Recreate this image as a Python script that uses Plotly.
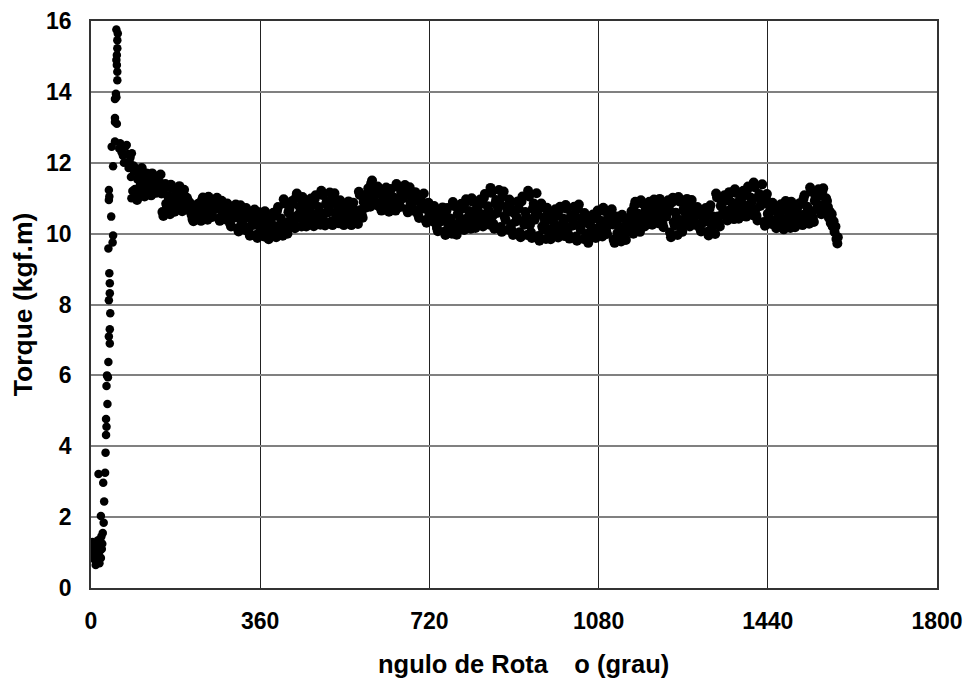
import plotly.graph_objects as go

# ---- data ----
rise_angle = [1, 2, 3, 5, 6, 8, 9, 10, 11, 12, 13, 14, 15, 16, 17, 18, 19, 20, 21, 22, 23, 24, 25,
              21, 27, 28, 16, 30, 26, 31, 32, 33, 32, 35, 33, 36, 34, 37, 40, 38, 40, 41, 38, 40,
              40, 39, 37, 46, 47, 43, 38, 39, 38, 47, 44, 51, 51, 55, 51, 51, 54, 53, 56, 56, 55,
              54, 55, 56, 56, 57, 54,
              60, 62, 65, 68, 70, 73, 76, 79, 82, 84, 87, 80, 85, 88, 86]
rise_torque = [1.2, 1.05, 1.3, 0.95, 1.15, 0.8, 1.1, 0.65, 0.9, 1.25, 1.0, 0.75, 1.35, 0.95, 1.15,
               0.7, 1.05, 1.3, 0.85, 1.45, 1.1, 1.25, 1.55,
               2.03, 1.84, 2.44, 3.22, 3.25, 2.97, 3.82, 4.32, 4.55, 4.77, 5.19, 5.7, 5.95, 6.0,
               6.38, 6.9, 7.1, 7.3, 7.75, 8.12, 8.32, 8.6, 8.88, 9.58, 9.75, 9.95, 10.48, 10.95,
               11.05, 11.23, 11.9, 12.45, 12.6, 13.15, 13.1, 13.26, 13.8, 13.85, 13.95, 14.33,
               14.57, 14.76, 14.9, 15.04, 15.23, 15.46, 15.65, 15.76,
               12.4, 12.55, 12.3, 12.2, 12.0, 12.45, 12.5, 12.25, 12.05, 12.15, 12.27, 11.85,
               11.6, 11.2, 11.0]

band_angle = [
    90, 94, 98, 102, 106, 110, 114, 118, 122, 126, 130, 134, 138, 142, 146, 150, 154, 158, 162, 166,
    170, 174, 178, 182, 186, 190, 194, 198, 202, 206, 210, 214, 218, 222, 226, 230, 234, 238, 242, 246,
    250, 254, 258, 262, 266, 270, 274, 278, 282, 286, 290, 294, 298, 302, 306, 310, 314, 318, 322, 326,
    330, 334, 338, 342, 346, 350, 354, 358, 362, 366, 370, 374, 378, 382, 386, 390, 394, 398, 402, 406,
    410, 414, 418, 422, 426, 430, 434, 438, 442, 446, 450, 454, 458, 462, 466, 470, 474, 478, 482, 486,
    490, 494, 498, 502, 506, 510, 514, 518, 522, 526, 530, 534, 538, 542, 546, 550, 554, 558, 562, 566,
    570, 574, 578, 582, 586, 590, 594, 598, 602, 606, 610, 614, 618, 622, 626, 630, 634, 638, 642, 646,
    650, 654, 658, 662, 666, 670, 674, 678, 682, 686, 690, 694, 698, 702, 706, 710, 714, 718, 722, 726,
    730, 734, 738, 742, 746, 750, 754, 758, 762, 766, 770, 774, 778, 782, 786, 790, 794, 798, 802, 806,
    810, 814, 818, 822, 826, 830, 834, 838, 842, 846, 850, 854, 858, 862, 866, 870, 874, 878, 882, 886,
    890, 894, 898, 902, 906, 910, 914, 918, 922, 926, 930, 934, 938, 942, 946, 950, 954, 958, 962, 966,
    970, 974, 978, 982, 986, 990, 994, 998, 1002, 1006, 1010, 1014, 1018, 1022, 1026, 1030, 1034, 1038, 1042, 1046,
    1050, 1054, 1058, 1062, 1066, 1070, 1074, 1078, 1082, 1086, 1090, 1094, 1098, 1102, 1106, 1110, 1114, 1118, 1122, 1126,
    1130, 1134, 1138, 1142, 1146, 1150, 1154, 1158, 1162, 1166, 1170, 1174, 1178, 1182, 1186, 1190, 1194, 1198, 1202, 1206,
    1210, 1214, 1218, 1222, 1226, 1230, 1234, 1238, 1242, 1246, 1250, 1254, 1258, 1262, 1266, 1270, 1274, 1278, 1282, 1286,
    1290, 1294, 1298, 1302, 1306, 1310, 1314, 1318, 1322, 1326, 1330, 1334, 1338, 1342, 1346, 1350, 1354, 1358, 1362, 1366,
    1370, 1374, 1378, 1382, 1386, 1390, 1394, 1398, 1402, 1406, 1410, 1414, 1418, 1422, 1426, 1430, 1434, 1438, 1442, 1446,
    1450, 1454, 1458, 1462, 1466, 1470, 1474, 1478, 1482, 1486, 1490, 1494, 1498, 1502, 1506, 1510, 1514, 1518, 1522, 1526,
    1530, 1534, 1538, 1542, 1546, 1550, 1554, 1558, 1562, 1566,
]
band_torque = [
    11.9, 11.24, 10.95, 11.62, 11.43, 11.51, 11.05, 11.7, 11.25, 11.38,
    11.7, 11.32, 11.15, 11.54, 11.43, 11.13, 10.5, 11.4, 10.77, 10.95,
    11.38, 10.85, 10.62, 11.15, 11.0, 11.06, 10.63, 11.24, 10.81, 10.94,
    10.87, 10.53, 10.35, 10.71, 10.62, 10.82, 10.36, 11.02, 10.56, 10.69,
    11.04, 10.64, 10.47, 10.87, 10.75, 10.76, 10.36, 10.93, 10.53, 10.65,
    10.85, 10.4, 10.2, 10.66, 10.52, 10.58, 10.06, 10.8, 10.28, 10.43,
    10.72, 10.17, 9.94, 10.49, 10.33, 10.38, 9.88, 10.6, 10.1, 10.24,
    10.63, 10.08, 9.84, 10.39, 10.24, 10.5, 9.9, 10.75, 10.15, 10.32,
    10.97, 10.29, 10.0, 10.68, 10.48, 10.84, 10.15, 11.13, 10.44, 10.64,
    11.03, 10.45, 10.2, 10.78, 10.62, 10.82, 10.21, 11.08, 10.47, 10.64,
    11.21, 10.52, 10.23, 10.92, 10.72, 10.87, 10.24, 11.14, 10.51, 10.69,
    10.94, 10.45, 10.24, 10.73, 10.59, 10.68, 10.24, 10.87, 10.43, 10.55,
    11.18, 10.67, 10.45, 10.96, 10.82, 11.28, 10.76, 11.5, 10.98, 11.13,
    11.33, 10.85, 10.65, 11.13, 10.99, 11.07, 10.62, 11.26, 10.81, 10.94,
    11.4, 10.95, 10.75, 11.2, 11.08, 11.1, 10.6, 11.31, 10.81, 10.96,
    11.17, 10.66, 10.44, 10.95, 10.8, 10.7, 10.31, 10.87, 10.48, 10.59,
    10.78, 10.28, 10.07, 10.57, 10.43, 10.49, 9.96, 10.72, 10.19, 10.34,
    10.89, 10.25, 9.97, 10.61, 10.43, 10.71, 10.1, 10.97, 10.36, 10.53,
    11.0, 10.41, 10.16, 10.75, 10.58, 10.84, 10.2, 11.12, 10.48, 10.66,
    11.29, 10.49, 10.14, 10.95, 10.72, 10.85, 10.05, 11.19, 10.39, 10.62,
    10.96, 10.26, 9.96, 10.66, 10.46, 10.71, 9.9, 11.05, 10.25, 10.48,
    11.21, 10.25, 9.88, 10.85, 10.55, 10.54, 9.8, 10.85, 10.12, 10.33,
    10.73, 10.11, 9.84, 10.46, 10.28, 10.5, 9.89, 10.76, 10.15, 10.33,
    10.81, 10.15, 9.86, 10.52, 10.33, 10.51, 9.8, 10.82, 10.11, 10.31,
    10.58, 9.99, 9.74, 10.33, 10.16, 10.42, 9.88, 10.65, 10.11, 10.27,
    10.73, 10.21, 9.99, 10.51, 10.36, 10.26, 9.74, 10.48, 9.96, 10.11,
    10.53, 10.03, 9.82, 10.32, 10.18, 10.63, 10.0, 10.9, 10.27, 10.45,
    10.94, 10.42, 10.2, 10.72, 10.57, 10.75, 10.25, 10.96, 10.46, 10.6,
    10.98, 10.42, 10.18, 10.74, 10.58, 10.68, 9.9, 11.01, 10.23, 10.45,
    11.03, 10.34, 10.05, 10.74, 10.54, 10.73, 10.2, 10.95, 10.43, 10.58,
    10.75, 10.27, 10.06, 10.54, 10.4, 10.55, 9.95, 10.8, 10.2, 10.37,
    11.13, 10.48, 10.2, 10.85, 10.66, 10.93, 10.37, 11.17, 10.61, 10.77,
    11.25, 10.67, 10.42, 11.0, 10.84, 11.08, 10.48, 11.33, 10.73, 10.9,
    11.44, 10.69, 10.37, 11.12, 10.9, 10.85, 10.22, 11.12, 10.49, 10.67,
    10.87, 10.37, 10.15, 10.65, 10.51, 10.68, 10.12, 10.92, 10.36, 10.52,
    10.9, 10.4, 10.18, 10.68, 10.54, 10.83, 10.24, 11.08, 10.49, 10.66,
    11.3, 10.62, 10.33, 11.01, 10.82, 11.06, 10.55, 11.28, 10.77, 10.92,
]

band2_angle = [
    92, 96, 100, 104, 108, 112, 116, 120, 124, 128, 132, 136, 140, 144, 148, 152, 156, 160, 164, 168,
    172, 176, 180, 184, 188, 192, 196, 200, 204, 208, 212, 216, 220, 224, 228, 232, 236, 240, 244, 248,
    252, 256, 260, 264, 268, 272, 276, 280, 284, 288, 292, 296, 300, 304, 308, 312, 316, 320, 324, 328,
    332, 336, 340, 344, 348, 352, 356, 360, 364, 368, 372, 376, 380, 384, 388, 392, 396, 400, 404, 408,
    412, 416, 420, 424, 428, 432, 436, 440, 444, 448, 452, 456, 460, 464, 468, 472, 476, 480, 484, 488,
    492, 496, 500, 504, 508, 512, 516, 520, 524, 528, 532, 536, 540, 544, 548, 552, 556, 560, 564, 568,
    572, 576, 580, 584, 588, 592, 596, 600, 604, 608, 612, 616, 620, 624, 628, 632, 636, 640, 644, 648,
    652, 656, 660, 664, 668, 672, 676, 680, 684, 688, 692, 696, 700, 704, 708, 712, 716, 720, 724, 728,
    732, 736, 740, 744, 748, 752, 756, 760, 764, 768, 772, 776, 780, 784, 788, 792, 796, 800, 804, 808,
    812, 816, 820, 824, 828, 832, 836, 840, 844, 848, 852, 856, 860, 864, 868, 872, 876, 880, 884, 888,
    892, 896, 900, 904, 908, 912, 916, 920, 924, 928, 932, 936, 940, 944, 948, 952, 956, 960, 964, 968,
    972, 976, 980, 984, 988, 992, 996, 1000, 1004, 1008, 1012, 1016, 1020, 1024, 1028, 1032, 1036, 1040, 1044, 1048,
    1052, 1056, 1060, 1064, 1068, 1072, 1076, 1080, 1084, 1088, 1092, 1096, 1100, 1104, 1108, 1112, 1116, 1120, 1124, 1128,
    1132, 1136, 1140, 1144, 1148, 1152, 1156, 1160, 1164, 1168, 1172, 1176, 1180, 1184, 1188, 1192, 1196, 1200, 1204, 1208,
    1212, 1216, 1220, 1224, 1228, 1232, 1236, 1240, 1244, 1248, 1252, 1256, 1260, 1264, 1268, 1272, 1276, 1280, 1284, 1288,
    1292, 1296, 1300, 1304, 1308, 1312, 1316, 1320, 1324, 1328, 1332, 1336, 1340, 1344, 1348, 1352, 1356, 1360, 1364, 1368,
    1372, 1376, 1380, 1384, 1388, 1392, 1396, 1400, 1404, 1408, 1412, 1416, 1420, 1424, 1428, 1432, 1436, 1440, 1444, 1448,
    1452, 1456, 1460, 1464, 1468, 1472, 1476, 1480, 1484, 1488, 1492, 1496, 1500, 1504, 1508, 1512, 1516, 1520, 1524, 1528,
    1532, 1536, 1540, 1544, 1548, 1552, 1556, 1560, 1564, 1567,
]
band2_torque = [
    11.79, 11.06, 11.54, 11.31, 11.85, 11.13, 11.62, 11.3, 11.45, 11.08,
    11.63, 11.22, 11.49, 11.36, 11.67, 10.61, 11.29, 10.84, 11.06, 10.55,
    11.29, 10.71, 11.09, 10.91, 11.34, 10.7, 11.17, 10.86, 11.01, 10.66,
    10.81, 10.41, 10.67, 10.55, 10.84, 10.44, 10.94, 10.61, 10.77, 10.39,
    10.97, 10.54, 10.82, 10.69, 11.01, 10.43, 10.86, 10.58, 10.71, 10.39,
    10.77, 10.28, 10.6, 10.45, 10.82, 10.15, 10.71, 10.34, 10.52, 10.1,
    10.63, 10.03, 10.42, 10.24, 10.68, 9.97, 10.51, 10.15, 10.33, 9.92,
    10.54, 9.93, 10.33, 10.14, 10.59, 10.0, 10.65, 10.22, 10.43, 9.94,
    10.85, 10.12, 10.6, 10.37, 10.92, 10.27, 11.01, 10.52, 10.76, 10.2,
    10.93, 10.3, 10.71, 10.52, 10.99, 10.31, 10.98, 10.54, 10.75, 10.25,
    11.09, 10.35, 10.84, 10.6, 11.16, 10.35, 11.03, 10.58, 10.8, 10.29,
    10.86, 10.32, 10.67, 10.51, 10.91, 10.32, 10.79, 10.48, 10.63, 10.27,
    11.09, 10.54, 10.9, 10.73, 11.14, 10.85, 11.41, 11.04, 11.22, 10.8,
    11.25, 10.73, 11.07, 10.91, 11.3, 10.7, 11.18, 10.86, 11.02, 10.65,
    11.32, 10.83, 11.15, 11.0, 11.37, 10.69, 11.22, 10.87, 11.04, 10.64,
    11.08, 10.53, 10.89, 10.72, 11.13, 10.38, 10.8, 10.52, 10.66, 10.34,
    10.69, 10.16, 10.51, 10.34, 10.74, 10.05, 10.63, 10.25, 10.43, 10.0,
    10.78, 10.08, 10.54, 10.32, 10.84, 10.2, 10.87, 10.43, 10.64, 10.14,
    10.9, 10.26, 10.68, 10.48, 10.96, 10.31, 11.01, 10.55, 10.77, 10.25,
    11.15, 10.28, 10.85, 10.58, 11.23, 10.19, 11.05, 10.48, 10.76, 10.11,
    10.84, 10.08, 10.58, 10.34, 10.91, 10.04, 10.91, 10.34, 10.61, 9.96,
    11.05, 10.04, 10.7, 10.39, 11.14, 9.93, 10.72, 10.2, 10.45, 9.85,
    10.62, 9.95, 10.39, 10.18, 10.69, 9.99, 10.66, 10.22, 10.43, 9.93,
    10.7, 9.97, 10.45, 10.22, 10.76, 9.92, 10.7, 10.19, 10.43, 9.85,
    10.48, 9.84, 10.26, 10.06, 10.54, 9.97, 10.56, 10.17, 10.36, 9.92,
    10.64, 10.08, 10.45, 10.27, 10.69, 9.83, 10.39, 10.02, 10.2, 9.78,
    10.44, 9.91, 10.26, 10.09, 10.49, 10.11, 10.79, 10.34, 10.56, 10.05,
    10.85, 10.29, 10.66, 10.48, 10.9, 10.34, 10.87, 10.52, 10.69, 10.29,
    10.88, 10.28, 10.68, 10.48, 10.94, 10.03, 10.88, 10.32, 10.59, 9.96,
    10.91, 10.17, 10.66, 10.42, 10.98, 10.29, 10.86, 10.49, 10.67, 10.24,
    10.67, 10.14, 10.49, 10.32, 10.72, 10.05, 10.7, 10.27, 10.48, 9.99,
    11.02, 10.31, 10.78, 10.55, 11.08, 10.47, 11.07, 10.67, 10.87, 10.41,
    11.15, 10.52, 10.93, 10.74, 11.21, 10.58, 11.23, 10.8, 11.01, 10.52,
    11.31, 10.5, 11.03, 10.78, 11.39, 10.33, 11.01, 10.56, 10.78, 10.27,
    10.78, 10.24, 10.6, 10.42, 10.83, 10.22, 10.82, 10.42, 10.62, 10.16,
    10.81, 10.27, 10.63, 10.45, 10.86, 10.34, 10.98, 10.56, 10.76, 10.28,
    11.18, 10.45, 10.93, 10.7, 11.25, 10.64, 11.19, 10.83, 11.0, 10.59,
]

tail_angle = [1568, 1570, 1572, 1574, 1576, 1578, 1580, 1582, 1584, 1586, 1588, 1589]
tail_torque = [10.75, 10.45, 10.62, 10.3, 10.55, 10.2, 10.35, 10.05, 10.2, 9.85, 9.72, 9.9]

x_ticks = [0, 360, 720, 1080, 1440, 1800]
y_ticks = [0, 2, 4, 6, 8, 10, 12, 14, 16]

x_title = "ngulo de Rota\u00a0\u00a0\u00a0\u2009o (grau)"
y_title = "Torque (kgf.m)"

band_all_angle = band_angle + band2_angle + tail_angle
band_all_torque = band_torque + band2_torque + tail_torque

FONT = "Liberation Sans, Arial, sans-serif"

fig = go.Figure()
fig.add_trace(go.Scatter(
    x=rise_angle, y=rise_torque, mode="markers",
    marker=dict(color="black", size=8.5, line=dict(width=0)),
    showlegend=False, hoverinfo="x+y",
))
fig.add_trace(go.Scatter(
    x=band_all_angle, y=band_all_torque, mode="markers",
    marker=dict(color="black", size=10, line=dict(width=0)),
    showlegend=False, hoverinfo="x+y",
))

fig.update_layout(
    width=970, height=687,
    paper_bgcolor="white", plot_bgcolor="white",
    margin=dict(l=91, r=33, t=21, b=99, autoexpand=False),
    font=dict(family=FONT, color="black"),
    annotations=[dict(
        text=x_title, xref="paper", yref="paper",
        x=0.511, y=-0.134, xanchor="center", yanchor="middle", showarrow=False,
        font=dict(family=FONT, size=25.5, color="black", weight="bold"),
    )],
)
fig.update_xaxes(
    range=[0, 1800], tickvals=x_ticks, ticktext=[str(v) for v in x_ticks],
    showgrid=True, gridcolor="#222222", gridwidth=1,
    showline=True, linecolor="#333333", linewidth=1.5, mirror=True,
    zeroline=False, ticks="", ticklabelstandoff=12, automargin=False,
    tickfont=dict(family=FONT, size=23, color="black", weight="bold"),
)
fig.update_yaxes(
    range=[0, 16], tickvals=y_ticks, ticktext=[str(v) for v in y_ticks],
    showgrid=True, gridcolor="#808080", gridwidth=2,
    showline=True, linecolor="#333333", linewidth=1.5, mirror=True,
    zeroline=False, ticks="", ticklabelstandoff=13, automargin=False,
    tickfont=dict(family=FONT, size=23, color="black", weight="bold"),
    title=dict(text=y_title,
               font=dict(family=FONT, size=26.5, color="black", weight="bold"), standoff=6),
)

fig.write_html("out.html")
